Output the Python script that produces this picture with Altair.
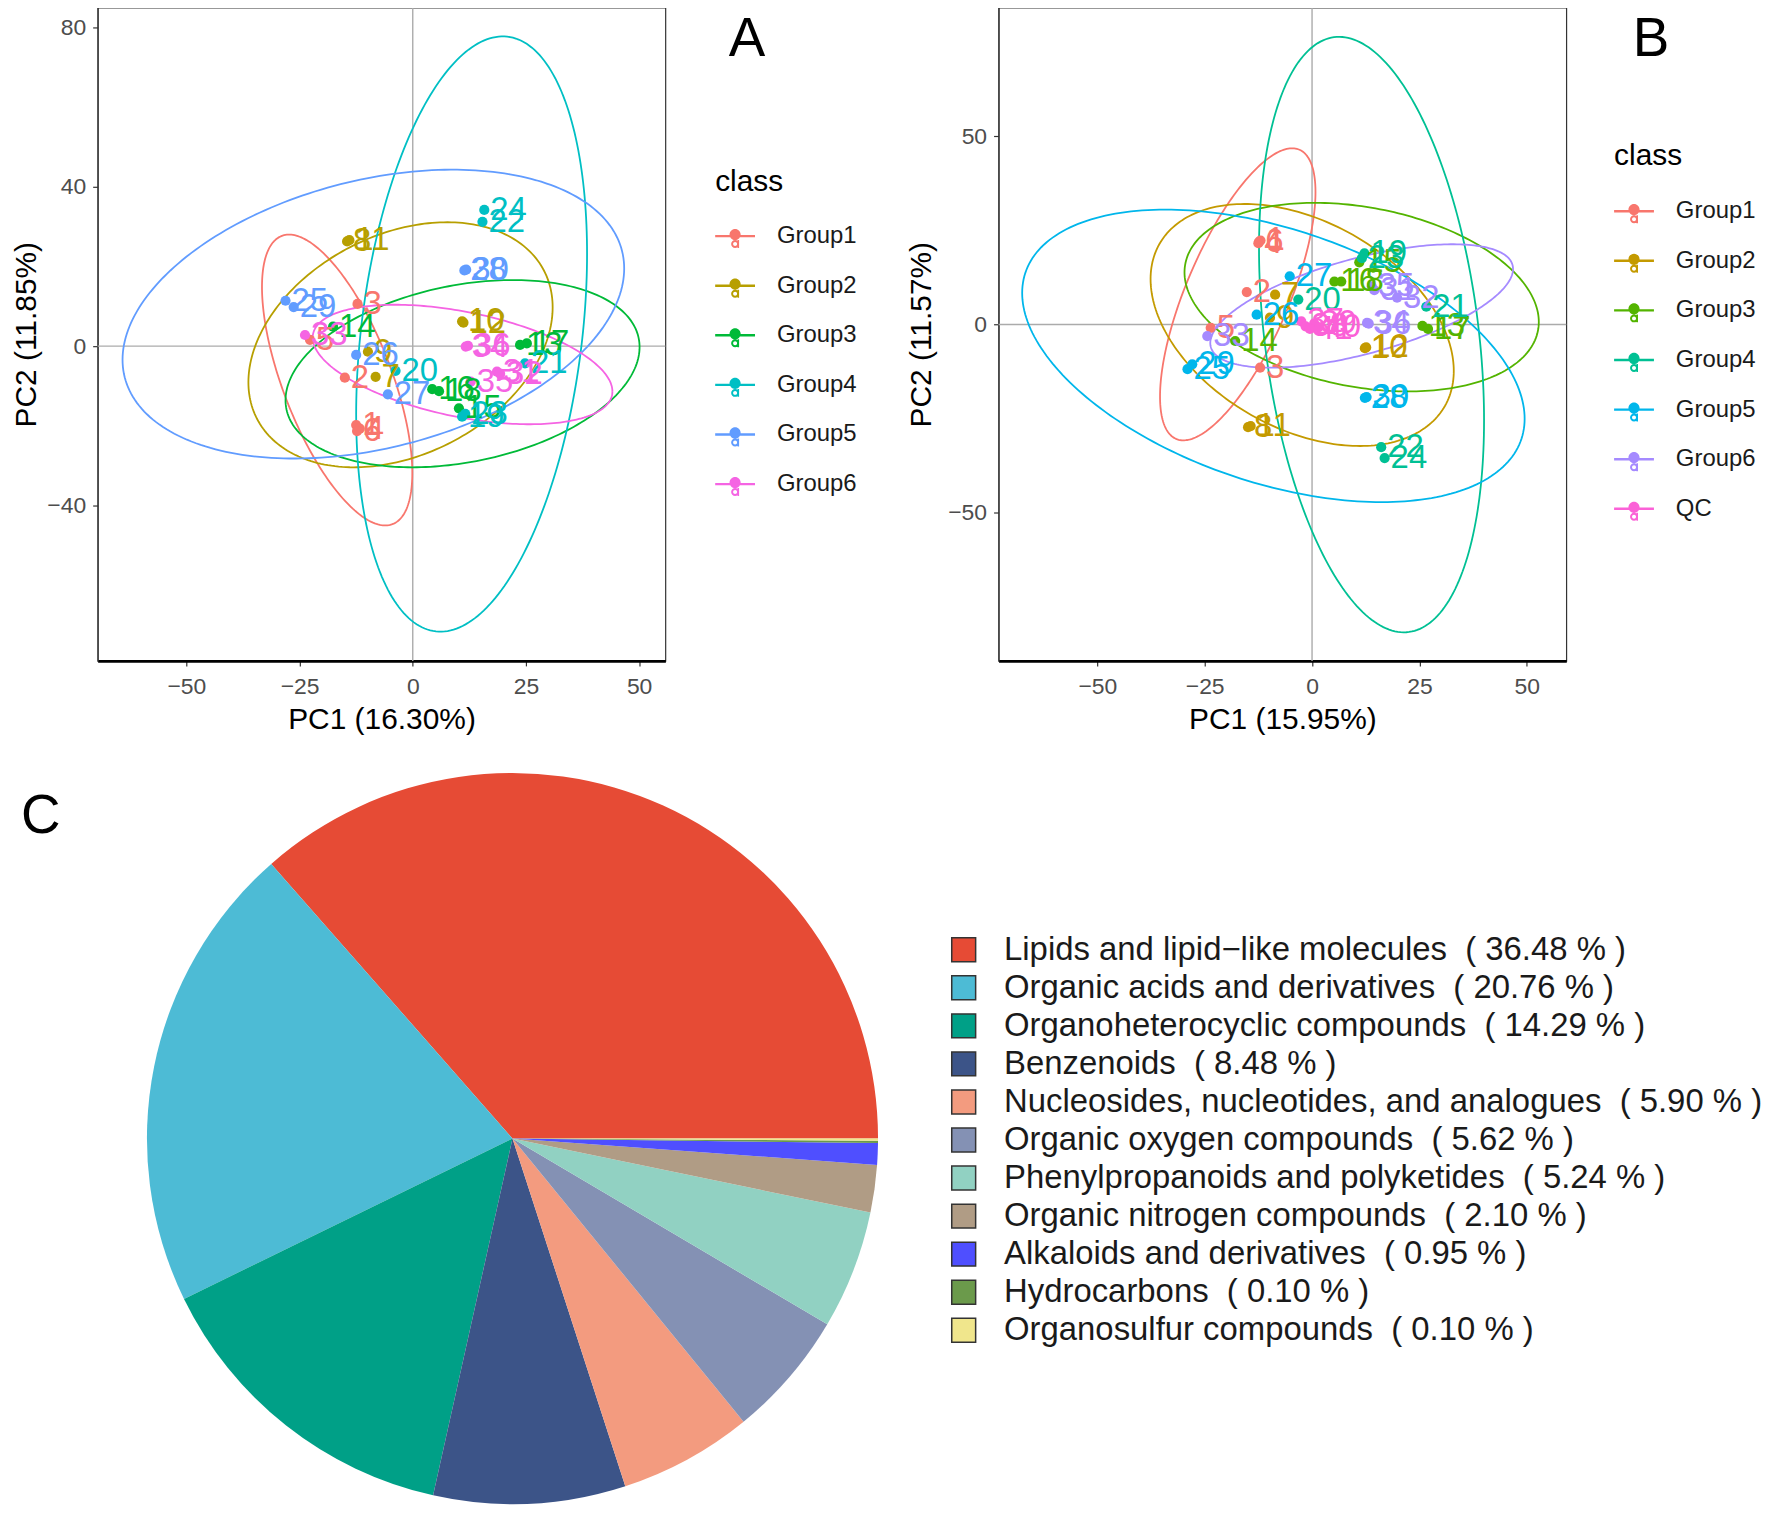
import altair as alt
import numpy as np
import pandas as pd

FONT = "Liberation Sans"

# ---------------- Panel A : PCA (6 groups) ----------------
a_label = [str(i) for i in range(1, 37)]
a_group = (["Group1"] * 6 + ["Group2"] * 6 + ["Group3"] * 6 +
           ["Group4"] * 6 + ["Group5"] * 6 + ["Group6"] * 6)
a_x = [-12.5, -15.0, -12.2, -11.7, -22.7, -12.3,
       -8.2, -14.5, -9.9, 10.9, -14.0, 11.2,
       23.7, -17.6, 10.2, 4.3, 25.2, 5.8,
       10.9, -3.8, 24.8, 15.4, 11.6, 15.8,
       -28.1, -12.5, -5.5, 11.4, -26.3, 11.8,
       18.6, 19.3, -23.8, 11.7, 12.8, 12.2]
a_y = [-19.8, -7.9, 10.6, -20.7, 1.6, -21.3,
       -7.7, 26.3, -1.4, 6.2, 26.6, 5.9,
       0.3, 4.9, -15.6, -10.8, 0.7, -11.3,
       -17.7, -6.2, -4.3, 31.2, -17.0, 34.2,
       11.4, -2.2, -12.1, 19.0, 9.8, 19.2,
       -6.4, -6.9, 2.8, -0.1, -8.9, 0.1]
a_groups = ["Group1", "Group2", "Group3", "Group4", "Group5", "Group6"]
a_colors = ["#F8766D", "#B79F00", "#00BA38", "#00BFC4", "#619CFF", "#F564E3"]
# ellipse outline parameters:
# centre, half extent along x and y, cosine of the phase (tilt)
a_ell_cx = [-16.7, -2.7, 11.0, 13.0, -8.7, 11.0]
a_ell_cy = [-8.5, 0.35, -6.9, 3.05, 8.05, -4.6]
a_ell_ax = [16.6, 33.6, 39.1, 25.5, 55.4, 33.1]
a_ell_by = [36.5, 30.75, 23.5, 74.7, 36.25, 15.0]
a_ell_c = [-0.64, 0.306, 0.284, 0.27, 0.316, -0.45]

# ---------------- Panel B : PCA (6 groups + QC) ----------------
b_label = [str(i) for i in range(1, 42)]
b_group = (["Group1"] * 6 + ["Group2"] * 6 + ["Group3"] * 6 +
           ["Group4"] * 6 + ["Group5"] * 6 + ["Group6"] * 6 + ["QC"] * 5)
b_x = [-12.0, -15.2, -12.1, -12.5, -23.6, -12.3,
       -8.6, -14.9, -9.8, 12.3, -14.3, 12.6,
       25.7, -17.9, 11.0, 5.2, 27.0, 6.8,
       12.2, -3.2, 26.6, 16.1, 11.6, 16.9,
       -29.0, -12.9, -5.2, 12.3, -27.9, 12.7,
       14.5, 19.8, -24.4, 12.8, 13.9, 13.2,
       -2.5, -1.5, 0.5, 1.5, -0.5]
b_y = [22.3, 8.6, -11.5, 21.6, -0.9, 22.0,
       7.9, -27.3, 1.8, -6.3, -27.0, -6.1,
       -0.4, -4.4, 16.5, 11.4, -1.2, 11.4,
       18.9, 6.6, 4.7, -32.6, 17.6, -35.5,
       -11.9, 2.6, 12.8, -19.5, -10.6, -19.3,
       9.1, 7.1, -3.1, 0.4, 10.1, 0.2,
       0.8, -0.5, 0.3, -0.8, -1.2]
b_groups = ["Group1", "Group2", "Group3", "Group4", "Group5", "Group6", "QC"]
b_colors = ["#F8766D", "#C49A00", "#53B400", "#00C094", "#00B6EB", "#A58AFF", "#FB61D7"]
b_ell_groups = ["Group1", "Group2", "Group3", "Group4", "Group5", "Group6"]
b_ell_cx = [-17.3, -2.3, 11.55, 13.85, -9.0, 11.55]
b_ell_cy = [8.0, -0.15, 7.25, -2.7, -8.35, 4.9]
b_ell_ax = [18.1, 35.3, 41.25, 26.2, 58.5, 35.25]
b_ell_by = [38.8, 32.15, 25.05, 79.1, 38.85, 16.4]
b_ell_c = [0.70, -0.38, -0.263, -0.288, -0.43, 0.60]

# ---------------- Panel C : pie ----------------
pie_cats = ["Lipids and lipid\u2212like molecules",
            "Organic acids and derivatives",
            "Organoheterocyclic compounds",
            "Benzenoids",
            "Nucleosides, nucleotides, and analogues",
            "Organic oxygen compounds",
            "Phenylpropanoids and polyketides",
            "Organic nitrogen compounds",
            "Alkaloids and derivatives",
            "Hydrocarbons",
            "Organosulfur compounds"]
pie_pct = [36.48, 20.76, 14.29, 8.48, 5.90, 5.62, 5.24, 2.10, 0.95, 0.10, 0.10]
pie_colors = ["#E64B35", "#4DBBD5", "#00A087", "#3C5488", "#F39B7F", "#8491B4",
              "#91D1C2", "#B09C85", "#4F4FFF", "#6B9A4B", "#F0E68C"]


def ellipse_frame(groups, cx, cy, ax, by, cph):
    t = np.linspace(0, 2 * np.pi, 241)
    frames = []
    for g, x0, y0, a, b, c in zip(groups, cx, cy, ax, by, cph):
        phi = float(np.arccos(c))
        frames.append(pd.DataFrame({
            "group": g,
            "x": x0 + a * np.cos(t),
            "y": y0 + b * np.cos(t - phi),
            "i": np.arange(len(t)),
        }))
    return pd.concat(frames, ignore_index=True)


# ggplot-style legend key: line + point + small "a"
KEY_PATH = ("M-1,-0.06L1,-0.06L1,0.06L-1,0.06Z "
            "M-0.28,-0.08A0.28,0.28 0 1,1 0.28,-0.08A0.28,0.28 0 1,1 -0.28,-0.08Z "
            "M-0.2,0.4A0.2,0.2 0 1,1 0.2,0.4A0.2,0.2 0 1,1 -0.2,0.4Z "
            "M-0.1,0.4A0.1,0.1 0 1,0 0.1,0.4A0.1,0.1 0 1,0 -0.1,0.4Z "
            "M0.12,0.2L0.2,0.2L0.2,0.6L0.12,0.6Z")

PW, PH = 570, 656


def letter_layer(letter, px, py, baseline):
    return alt.Chart(pd.DataFrame({"t": [letter]})).mark_text(
        fontSize=55, font=FONT, align="center", baseline=baseline,
        color="black").encode(text="t:N", x=alt.value(px), y=alt.value(py))


def pca_panel(pts, ell, groups, colors, xdom, ydom, yvals, xtitle, ytitle,
              ytitle_x, letter, letter_x, leg_x, leg_y, leg_tpad):
    cscale = alt.Scale(domain=groups, range=colors)
    xs = alt.Scale(domain=xdom, nice=False, zero=False)
    ys = alt.Scale(domain=ydom, nice=False, zero=False)
    xax = alt.Axis(values=[-50, -25, 0, 25, 50], title=xtitle, titleY=59,
                   titleBaseline="middle", labelPadding=9.5)
    yax = alt.Axis(values=yvals, title=ytitle, titleX=ytitle_x,
                   titleBaseline="middle")
    X = alt.X("x:Q", scale=xs, axis=xax)
    Y = alt.Y("y:Q", scale=ys, axis=yax)

    vline = alt.Chart(pd.DataFrame({"x": [0.0]})).mark_rule(
        color="#ababab", strokeWidth=1.4).encode(x=X)
    hline = alt.Chart(pd.DataFrame({"y": [0.0]})).mark_rule(
        color="#ababab", strokeWidth=1.4).encode(y=Y)
    ellipse = alt.Chart(ell).mark_line(strokeWidth=1.8).encode(
        x=X, y=Y,
        color=alt.Color("group:N", scale=cscale, legend=None),
        detail="group:N",
        order="i:Q",
    )
    dots = alt.Chart(pts).mark_circle(size=105, opacity=1).encode(
        x=X, y=Y,
        color=alt.Color("group:N", scale=cscale, legend=alt.Legend(
            title="class", orient="none", legendX=leg_x, legendY=leg_y,
            symbolType=KEY_PATH, symbolSize=1600, symbolStrokeWidth=0,
            symbolOpacity=1, labelFontSize=24, labelFont=FONT,
            labelColor="#1a1a1a", titleFontSize=30, titleFont=FONT,
            titleFontWeight="normal", titleColor="black", titlePadding=leg_tpad,
            rowPadding=17.8, labelOffset=22, padding=0)),
    )
    labels = alt.Chart(pts).mark_text(
        align="left", baseline="middle", dx=6, fontSize=33, font=FONT).encode(
        x=X, y=Y, text="label:N",
        color=alt.Color("group:N", scale=cscale, legend=None),
    )
    return alt.layer(vline, hline, ellipse, dots, labels,
                     letter_layer(letter, letter_x, 6, "top")).resolve_legend(
        color="independent",
    ).properties(
        width=PW, height=PH,
        view=alt.ViewBackground(stroke="#333333", strokeWidth=1.2),
    )


pts_a = pd.DataFrame({"label": a_label, "group": a_group, "x": a_x, "y": a_y})
pts_b = pd.DataFrame({"label": b_label, "group": b_group, "x": b_x, "y": b_y})
ell_a = ellipse_frame(a_groups, a_ell_cx, a_ell_cy, a_ell_ax, a_ell_by, a_ell_c)
ell_b = ellipse_frame(b_ell_groups, b_ell_cx, b_ell_cy, b_ell_ax, b_ell_by, b_ell_c)

panel_a = pca_panel(pts_a, ell_a, a_groups, a_colors, [-69.6, 55.8], [-79.0, 85.0],
                    [-40, 0, 40, 80], "PC1 (16.30%)", "PC2 (11.85%)", -71,
                    "A", 652, 620, 160.5, 19)
panel_b = pca_panel(pts_b, ell_b, b_groups, b_colors, [-73.0, 59.2], [-89.4, 84.2],
                    [-50, 0, 50], "PC1 (15.95%)", "PC2 (11.57%)", -77,
                    "B", 655, 618, 134.5, 20)

pie_labels = [f"{c}\u00a0 ( {p:.2f} % )" for c, p in zip(pie_cats, pie_pct)]
pie_df = pd.DataFrame({
    "cat": pie_labels,
    "pct": pie_pct,
    "rank": list(range(len(pie_pct) - 1, -1, -1)),
})
pie = alt.Chart(pie_df).mark_arc(radius=367).encode(
    theta=alt.Theta("pct:Q", stack=True,
                    scale=alt.Scale(range=[float(np.pi / 2), float(5 * np.pi / 2)])),
    color=alt.Color("cat:N", scale=alt.Scale(domain=pie_labels, range=pie_colors),
                    legend=alt.Legend(title=None, orient="none", legendX=853,
                                      legendY=174, symbolType="square",
                                      symbolSize=576, symbolStrokeColor="#333333",
                                      symbolStrokeWidth=1.5, labelFontSize=33,
                                      labelFont=FONT, labelColor="#1a1a1a",
                                      labelLimit=2000, rowPadding=4.2,
                                      labelOffset=24, padding=0)),
    order=alt.Order("rank:Q"),
)
panel_c = alt.layer(pie, letter_layer("C", -57, 56, "middle")).properties(
    width=833, height=760,
    view=alt.ViewBackground(stroke="transparent"),
)

chart = alt.concat(
    panel_a, panel_b, panel_c, columns=2, bounds="flush", align="each",
    spacing={"row": 99.5, "column": 71.5},
).resolve_scale(
    color="independent",
).resolve_legend(
    color="independent",
).configure_axis(
    labelFont=FONT, titleFont=FONT, labelFontSize=23, labelColor="#4d4d4d",
    titleFontSize=30, titleFontWeight="normal", titleColor="black",
    tickColor="#333333", tickSize=5, tickWidth=1.2, grid=False, labelPadding=7,
).configure_axisX(
    domainColor="black", domainWidth=2.6,
).configure_axisY(
    domainColor="#333333", domainWidth=1.2,
).configure_view(
    stroke="transparent",
).properties(padding={"left": 3, "top": -5.5, "right": 0, "bottom": 0},
             background="white")

chart.save("out.html", embed_options={"renderer": "svg", "actions": False})
